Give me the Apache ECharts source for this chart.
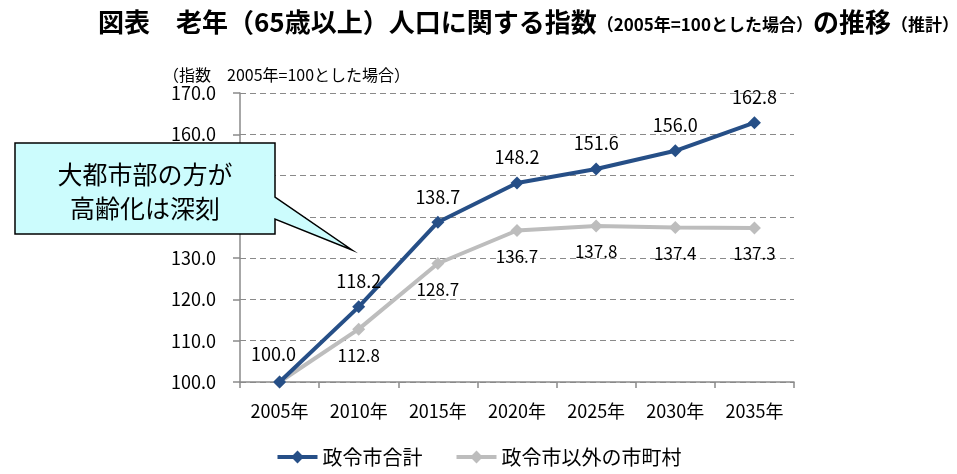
<!DOCTYPE html>
<html lang="ja">
<head>
<meta charset="utf-8">
<title>老年人口に関する指数の推移</title>
<script src="https://cdn.jsdelivr.net/npm/echarts@6/dist/echarts.min.js"></script>
<style>
  html, body { margin: 0; padding: 0; background: #fff; }
  #chart { width: 957px; height: 474px; }
</style>
</head>
<body>
<div id="chart"></div>
<script>
"use strict";

const years = ["2005年", "2010年", "2015年", "2020年", "2025年", "2030年", "2035年"];
const seireishi = [100.0, 118.2, 138.7, 148.2, 151.6, 156.0, 162.8];
const sonota = [100.0, 112.8, 128.7, 136.7, 137.8, 137.4, 137.3];
const seriesNames = ["政令市合計", "政令市以外の市町村"];
const calloutLines = ["大都市部の方が", "高齢化は深刻"];

const FONT = "'Noto Sans CJK JP', 'Noto Sans', sans-serif";
const BLUE = "#264f87";
const GRAY = "#bdbdbd";
const AXIS = "#8a8a8a";

const chart = echarts.init(document.getElementById("chart"));

const fmt = (p) => p.value.toFixed(1);

chart.setOption({
  backgroundColor: "#fff",
  animation: false,
  textStyle: { fontFamily: FONT, color: "#000" },
  title: [
    {
      left: 93, top: 4,
      text: "{b|図表　老年（65歳以上）人口に関する指数}{s|（2005年=100とした場合）}{b|の推移}{s|（推計）}",
      textStyle: {
        rich: {
          b: { fontFamily: FONT, fontWeight: "bold", fontSize: 26, color: "#000" },
          s: { fontFamily: FONT, fontWeight: "bold", fontSize: 17, color: "#000", padding: [5, 0, 0, 0] },
        },
      },
    },
    {
      left: 158, top: 62,
      text: "（指数　2005年=100とした場合）",
      textStyle: { fontFamily: FONT, fontWeight: "normal", fontSize: 16, color: "#000" },
    },
  ],
  grid: { left: 240, right: 163, top: 93, bottom: 92 },
  legend: {
    bottom: 2, left: "center",
    itemWidth: 40, itemHeight: 16, itemGap: 32,
    lineStyle: { width: 4 },
    textStyle: { fontFamily: FONT, fontSize: 20, color: "#000" },
    data: seriesNames,
  },
  xAxis: {
    type: "category",
    data: years,
    boundaryGap: true,
    axisLine: { lineStyle: { color: AXIS, width: 1.5 } },
    axisTick: { show: true, length: 6, lineStyle: { color: AXIS, width: 1.5 } },
    axisLabel: { fontFamily: FONT, fontSize: 18, color: "#000", margin: 20 },
  },
  yAxis: {
    type: "value",
    min: 100, max: 170, interval: 10,
    axisLine: { show: true, lineStyle: { color: AXIS, width: 1.5 } },
    axisTick: { show: true, length: 7, lineStyle: { color: AXIS, width: 1.5 } },
    axisLabel: { fontFamily: FONT, fontSize: 18, color: "#000", margin: 24, formatter: (v) => v.toFixed(1) },
    splitLine: { lineStyle: { color: AXIS, width: 1, type: [6, 4] } },
  },
  series: [
    {
      name: seriesNames[1],
      type: "line",
      data: sonota,
      symbol: "diamond", symbolSize: 13,
      color: GRAY,
      lineStyle: { width: 4, color: GRAY },
      itemStyle: { color: GRAY },
      label: {
        show: true, position: "bottom", distance: 11,
        fontFamily: FONT, fontSize: 17, color: "#000",
        formatter: (p) => (p.dataIndex === 0 ? "" : fmt(p)),
      },
      z: 2,
    },
    {
      name: seriesNames[0],
      type: "line",
      data: seireishi.map((v, i) => (i === 0 ? { value: v, label: { offset: [-6, -2] } } : v)),
      symbol: "diamond", symbolSize: 13,
      color: BLUE,
      lineStyle: { width: 4, color: BLUE },
      itemStyle: { color: BLUE },
      label: {
        show: true, position: "top", distance: 10,
        fontFamily: FONT, fontSize: 18, color: "#000",
        formatter: fmt,
      },
      z: 3,
    },
  ],
  graphic: [
    {
      type: "polygon",
      z: 100,
      shape: {
        points: [[15, 143], [275, 143], [275, 197], [352, 250], [275, 219], [275, 234], [15, 234]],
      },
      style: { fill: "#ccfcfd", stroke: "#000", lineWidth: 1.5 },
    },
    {
      type: "text",
      z: 101,
      x: 145, y: 191,
      style: {
        text: calloutLines.join("\n"),
        textAlign: "center",
        textVerticalAlign: "middle",
        fontFamily: FONT, fontSize: 25, lineHeight: 34, fill: "#000",
      },
    },
  ],
});
</script>
</body>
</html>
